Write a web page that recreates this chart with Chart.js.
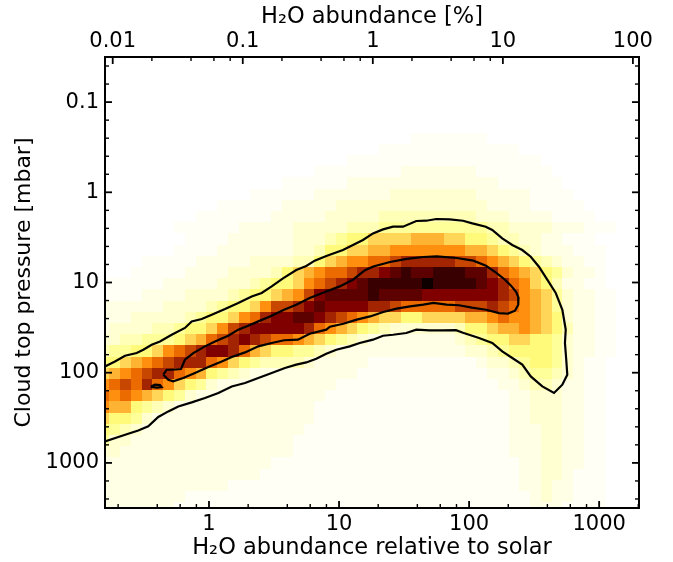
<!DOCTYPE html>
<html><head><meta charset="utf-8">
<script src="https://cdn.jsdelivr.net/npm/chart.js@4.4.1/dist/chart.umd.min.js"></script>
<style>html,body{margin:0;padding:0;background:#fff}#wrap{width:673px;height:562px}</style>
</head><body><div id="wrap"><canvas id="c" width="673" height="562"></canvas></div>
<script>
// ---- axis ranges / ticks ----
const xMin = 0.1586, xMax = 2025;          // H2O relative to solar
const yMin = 0.03162, yMax = 3162;          // cloud top pressure [mbar]
const solarH2OPercent = 0.0550;             // 1x solar in percent (top axis)
const xTickValues = [1, 10, 100, 1000];
const yTickValues = [0.1, 1, 10, 100, 1000];
const topTickValues = [0.01, 0.1, 1, 10, 100];
const topTickLabels = ['0.01', '0.1', '1', '10', '100'];

// ---- 2D histogram: bins in log10 units ----
const xBinStartLog = -0.8497, xBinStepLog = 0.08297;
const yBinStartLog = -1.531,  yBinStepLog = 0.12417;
const levelCodes  = '0123456789ABCDEFG';
const levelValues = [0, .02, .05, .09, .14, .20, .26, .33, .40, .47, .54, .61, .68, .75, .82, .89, .97];
const densityRows = [
 '0000000000 0000000000 0000000000 0000000000 0000000000',
 '0000000000 0000000000 0000000000 0000000000 0000000000',
 '0000000000 0000000000 0000000000 0000000000 0000000000',
 '0000000000 0000000000 0000000000 0000000000 0000000000',
 '0000000000 0000000000 0000000000 0000000000 0000000000',
 '0000000000 0000000000 0000000000 0000000000 0000000000',
 '0000000000 0000000000 0000000000 0000000000 0000000000',
 '0000000000 0000000000 0000000001 1111110000 0000000000',
 '0000000000 0000000000 0000001111 1111111110 0000000000',
 '0000000000 0000000000 0001111111 1111111111 1000000000',
 '0000000000 0000000000 1111111122 2222211111 1100000000',
 '0000000000 0000000111 1112222222 2222222111 1110000000',
 '0000000000 0000111111 2222222333 3333322222 1111000000',
 '0000000000 0111111222 2233333333 3333332222 1111100000',
 '0000000001 1111112222 2333334444 4444433322 2211110000',
 '0000000111 1112222233 3334445555 5555554433 3322211100',
 '0000000011 1122222233 3456677778 8877665443 3221110000',
 '0000000111 1222222233 4667788999 9999887654 3222111000',
 '0000111112 2222333344 67899AABCC CCCBBA9876 5432211000',
 '0001111122 2233334678 9AABCCDEFE EFFFEECA98 7653221000',
 '1111112222 2333456679 ABCDEFFFFF GFFFFEDCA9 7642211000',
 '1111222233 334566789B DEEEEFEEEE DDDDDDDCB9 8753221100',
 '2222223333 456679BBCD EDDDDCCBAA AAABBBCBA9 8753221100',
 '2223333345 6679ACDDEE DCBA987766 7777889A99 8763221100',
 '2333344566 79BCDDDDDC A987654333 3334667889 8764221100',
 '3344555678 ABCDCBAA98 7654322222 2223456677 6653221100',
 '4556679ABC DDCA876655 4322222222 2222334566 6653221100',
 '66789ABCCC A976544443 2222211111 1111123345 6653211000',
 '789ABCCA98 6543222222 2222111111 1111112234 5543211000',
 '9ABACA9765 3222222222 2211111111 1111111223 4432211000',
 'A9A9876532 2222222222 2111111111 1111111122 3332211000',
 '9886543222 2222222222 1111111111 1111111122 3332211000',
 '7665322222 2222222222 1111111111 1111111122 3332211000',
 '6543222222 2222222221 1111111111 1111111122 2332211000',
 '5332222222 2222222211 1111111111 1111111122 2332211000',
 '3322222222 2222222211 1111111111 1111111122 2332211000',
 '2222222222 2222221111 1111111111 1111111112 2332211000',
 '2222222222 2222211111 1111111111 1111111112 2332111000',
 '2222222222 2211111111 1111111111 1111111112 2322111000',
 '2222222211 1111111111 1111111111 1111111111 2322111000',
 '2222222111 1111111111 1111111111 1111111111 2221111000'
];

// ---- contours: [log10(H2O/solar), log10(P/mbar)] ----
const outerContour = [[-0.800,1.930],[-0.723,1.875],[-0.646,1.812],[-0.556,1.782],[-0.505,1.745],[-0.441,1.690],[-0.377,1.653],[-0.287,1.579],[-0.185,1.504],[-0.133,1.431],[-0.056,1.405],[0.021,1.357],[0.123,1.294],[0.225,1.227],[0.328,1.154],[0.405,1.116],[0.482,1.043],[0.569,0.955],[0.671,0.861],[0.748,0.817],[0.813,0.758],[0.902,0.706],[1.030,0.640],[1.107,0.584],[1.184,0.529],[1.261,0.456],[1.338,0.411],[1.415,0.381],[1.492,0.381],[1.594,0.318],[1.671,0.315],[1.748,0.296],[1.851,0.300],[1.953,0.315],[2.025,0.345],[2.128,0.381],[2.178,0.418],[2.255,0.511],[2.332,0.584],[2.409,0.640],[2.474,0.714],[2.537,0.825],[2.601,0.969],[2.666,1.116],[2.717,1.302],[2.743,1.523],[2.737,1.671],[2.747,1.856],[2.755,2.022],[2.717,2.133],[2.653,2.225],[2.563,2.152],[2.474,2.041],[2.409,1.911],[2.332,1.837],[2.255,1.764],[2.178,1.671],[2.076,1.615],[2.000,1.579],[1.953,1.557],[1.899,1.529],[1.799,1.531],[1.697,1.531],[1.594,1.523],[1.517,1.560],[1.415,1.579],[1.338,1.590],[1.261,1.634],[1.159,1.671],[1.082,1.708],[0.979,1.745],[0.902,1.789],[0.825,1.845],[0.748,1.886],[0.671,1.911],[0.584,1.948],[0.482,2.003],[0.379,2.059],[0.277,2.114],[0.175,2.152],[0.072,2.225],[-0.031,2.280],[-0.133,2.329],[-0.236,2.374],[-0.313,2.429],[-0.390,2.491],[-0.467,2.595],[-0.544,2.640],[-0.621,2.676],[-0.697,2.713],[-0.800,2.762]];
const innerContour = [[-0.351,2.022],[-0.325,1.967],[-0.287,1.967],[-0.215,1.959],[-0.185,1.856],[-0.121,1.782],[-0.031,1.708],[0.046,1.653],[0.148,1.590],[0.225,1.523],[0.302,1.479],[0.379,1.431],[0.482,1.368],[0.577,1.302],[0.671,1.246],[0.774,1.172],[0.902,1.099],[1.005,1.043],[1.107,0.969],[1.200,0.864],[1.263,0.822],[1.392,0.773],[1.520,0.739],[1.648,0.717],[1.751,0.711],[1.905,0.728],[2.032,0.758],[2.130,0.814],[2.207,0.891],[2.276,0.969],[2.322,1.035],[2.361,1.102],[2.380,1.169],[2.378,1.246],[2.353,1.313],[2.299,1.344],[2.230,1.340],[2.130,1.302],[2.022,1.279],[1.922,1.252],[1.828,1.246],[1.725,1.227],[1.648,1.246],[1.546,1.265],[1.443,1.290],[1.340,1.327],[1.238,1.376],[1.136,1.412],[1.033,1.457],[0.930,1.490],[0.902,1.523],[0.774,1.568],[0.684,1.634],[0.577,1.640],[0.482,1.671],[0.379,1.708],[0.277,1.775],[0.175,1.826],[0.098,1.875],[-0.005,1.937],[-0.108,2.003],[-0.198,2.059],[-0.275,2.096],[-0.313,2.078],[-0.351,2.022]];
const smallContour = [[-0.446,2.152],[-0.415,2.133],[-0.377,2.136],[-0.364,2.159],[-0.402,2.166],[-0.441,2.159],[-0.446,2.152]];

// ---- helpers ----
const toPts = arr => arr.map(([lx, lp]) => ({x: Math.pow(10, lx), y: Math.pow(10, lp)}));
function afmhotR(v) {
  const t = 1 - v;
  const c = u => Math.round(255 * Math.min(1, Math.max(0, u)));
  return 'rgb(' + c(2 * t) + ',' + c(2 * t - 0.5) + ',' + c(2 * t - 1) + ')';
}
const FONT = 'DejaVu Sans';

const heatmapPlugin = {
  id: 'heatmap',
  beforeDatasetsDraw(chart) {
    const {ctx, chartArea: ca, scales: {x: xs, y: ys}} = chart;
    ctx.save();
    ctx.beginPath(); ctx.rect(ca.left, ca.top, ca.right - ca.left, ca.bottom - ca.top); ctx.clip();
    densityRows.forEach((raw, j) => {
      const row = raw.replace(/ /g, '');
      const y0 = Math.round(ys.getPixelForValue(Math.pow(10, yBinStartLog + j * yBinStepLog)));
      const y1 = Math.round(ys.getPixelForValue(Math.pow(10, yBinStartLog + (j + 1) * yBinStepLog)));
      for (let i = 0; i < row.length; i++) {
        const v = levelValues[levelCodes.indexOf(row[i])];
        if (!v) continue;
        const x0 = Math.round(xs.getPixelForValue(Math.pow(10, xBinStartLog + i * xBinStepLog)));
        const x1 = Math.round(xs.getPixelForValue(Math.pow(10, xBinStartLog + (i + 1) * xBinStepLog)));
        ctx.fillStyle = afmhotR(v);
        ctx.fillRect(x0, y0, x1 - x0, y1 - y0);
      }
    });
    ctx.restore();
  }
};

const frameTicksPlugin = {
  id: 'frameTicks',
  afterDraw(chart) {
    const {ctx, chartArea: ca, scales: {x: xs, y: ys, x2: ts}} = chart;
    ctx.save();
    ctx.strokeStyle = '#000';
    const seg = (x1, y1, x2, y2, lw) => { ctx.lineWidth = lw; ctx.beginPath(); ctx.moveTo(x1, y1); ctx.lineTo(x2, y2); ctx.stroke(); };
    const MAJ = 7, MIN = 4, LWM = 1.8, LWm = 1.4;
    xTickValues.forEach(v => { const p = xs.getPixelForValue(v); seg(p, ca.bottom, p, ca.bottom - MAJ, LWM); });
    for (let d = -1; d <= 3; d++) [2, 4, 6, 8].forEach(k => {
      const v = k * Math.pow(10, d); if (v <= xMin || v >= xMax) return;
      const p = xs.getPixelForValue(v); seg(p, ca.bottom, p, ca.bottom - MIN, LWm);
    });
    topTickValues.forEach(v => { const p = ts.getPixelForValue(v); seg(p, ca.top, p, ca.top + MAJ, LWM); });
    for (let d = -2; d <= 0; d++) [2, 4, 6, 8].forEach(k => {
      const p = ts.getPixelForValue(k * Math.pow(10, d)); seg(p, ca.top, p, ca.top + MIN, LWm);
    });
    yTickValues.forEach(v => {
      const p = ys.getPixelForValue(v);
      seg(ca.left, p, ca.left + MAJ, p, LWM); seg(ca.right, p, ca.right - MAJ, p, LWM);
    });
    for (let e = -1.4; e < 3.5; e += 0.2) {
      if (Math.abs(e - Math.round(e)) < 1e-6) continue;
      const p = ys.getPixelForValue(Math.pow(10, e));
      seg(ca.left, p, ca.left + MIN, p, LWm); seg(ca.right, p, ca.right - MIN, p, LWm);
    }
    ctx.lineWidth = 2;
    ctx.strokeRect(ca.left, ca.top, ca.right - ca.left, ca.bottom - ca.top);
    ctx.restore();
  }
};

const lineDs = (pts) => ({
  data: toPts(pts), showLine: true, borderColor: '#000', borderWidth: 2.2,
  pointRadius: 0, fill: false, tension: 0, xAxisID: 'x', yAxisID: 'y'
});

new Chart(document.getElementById('c'), {
  type: 'scatter',
  data: { datasets: [lineDs(outerContour), lineDs(innerContour), lineDs(smallContour)] },
  options: {
    responsive: false, animation: false, devicePixelRatio: 1,
    layout: { padding: { left: 0, right: 34, top: 0, bottom: 0 } },
    plugins: { legend: { display: false }, tooltip: { enabled: false } },
    scales: {
      x: {
        type: 'logarithmic', position: 'bottom', min: xMin, max: xMax, bounds: 'data',
        grid: { display: false, drawTicks: false }, border: { display: false },
        afterBuildTicks: s => { s.ticks = xTickValues.map(v => ({value: v})); },
        afterFit: s => { s.height = 54; },
        ticks: { autoSkip: false, maxRotation: 0, minRotation: 0, padding: 4, color: '#000',
                 font: { family: FONT, size: 21 }, callback: v => String(v) },
        title: { display: true, text: 'H\u2082O abundance relative to solar', color: '#000',
                 font: { family: FONT, size: 22.5 }, padding: { top: 0, bottom: 0 } }
      },
      x2: {
        type: 'logarithmic', position: 'top', axis: 'x',
        min: xMin * solarH2OPercent, max: xMax * solarH2OPercent, bounds: 'data',
        grid: { display: false, drawTicks: false }, border: { display: false },
        afterBuildTicks: s => { s.ticks = topTickValues.map(v => ({value: v})); },
        afterFit: s => { s.height = 57; },
        ticks: { autoSkip: false, maxRotation: 0, minRotation: 0, padding: 3, color: '#000',
                 font: { family: FONT, size: 21 }, callback: (v, i) => topTickLabels[i] },
        title: { display: true, text: 'H\u2082O abundance [%]', color: '#000',
                 font: { family: FONT, size: 22.5 }, padding: { top: 4, bottom: 0 } }
      },
      y: {
        type: 'logarithmic', position: 'left', min: yMin, max: yMax, reverse: true, bounds: 'data',
        grid: { display: false, drawTicks: false }, border: { display: false },
        afterBuildTicks: s => { s.ticks = yTickValues.map(v => ({value: v})); },
        afterFit: s => { s.width = 105; },
        ticks: { autoSkip: false, padding: 6, color: '#000',
                 font: { family: FONT, size: 21 }, callback: v => String(v) },
        title: { display: true, text: 'Cloud top pressure [mbar]', color: '#000',
                 font: { family: FONT, size: 22 }, padding: { top: 11, bottom: 0 } }
      }
    }
  },
  plugins: [heatmapPlugin, frameTicksPlugin]
});
</script></body></html>
